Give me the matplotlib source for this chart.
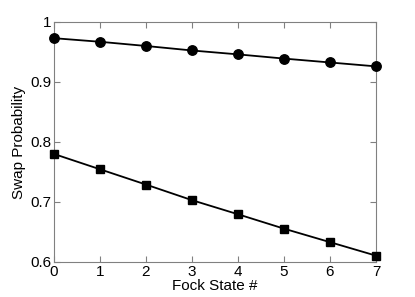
import matplotlib
matplotlib.use("Agg")
import matplotlib.pyplot as plt

fock = [0, 1, 2, 3, 4, 5, 6, 7]
swap_circle = [0.973, 0.967, 0.960, 0.9525, 0.946, 0.939, 0.9325, 0.926]
swap_square = [0.780, 0.7545, 0.729, 0.703, 0.6795, 0.6555, 0.633, 0.6105]
yticks = [0.6, 0.7, 0.8, 0.9, 1.0]
yticklabels = ["0.6", "0.7", "0.8", "0.9", "1"]

plt.rcParams["font.family"] = ["Liberation Sans", "DejaVu Sans"]

fig = plt.figure(figsize=(4.15, 2.97), dpi=100)
ax = fig.add_axes([0.130, 0.118, 0.776, 0.808])

ax.plot(fock, swap_circle, color="black", linewidth=1.3, marker="o", markersize=6.8, clip_on=False, zorder=3)
ax.plot(fock, swap_square, color="black", linewidth=1.3, marker="s", markersize=5.5, clip_on=False, zorder=3)

ax.set_xlim(0, 7)
ax.set_ylim(0.6, 1.0)
ax.set_xticks(fock)
ax.set_yticks(yticks)
ax.set_yticklabels(yticklabels)
ax.tick_params(direction="in", top=True, right=True, labelsize=11, length=4, color="#808080", pad=2)
for s in ax.spines.values():
    s.set_color("#808080")
ax.set_xlabel("Fock State #", fontsize=11, labelpad=0)
ax.set_ylabel("Swap Probability", fontsize=11, labelpad=3)

fig.savefig("out.png", dpi=100)
